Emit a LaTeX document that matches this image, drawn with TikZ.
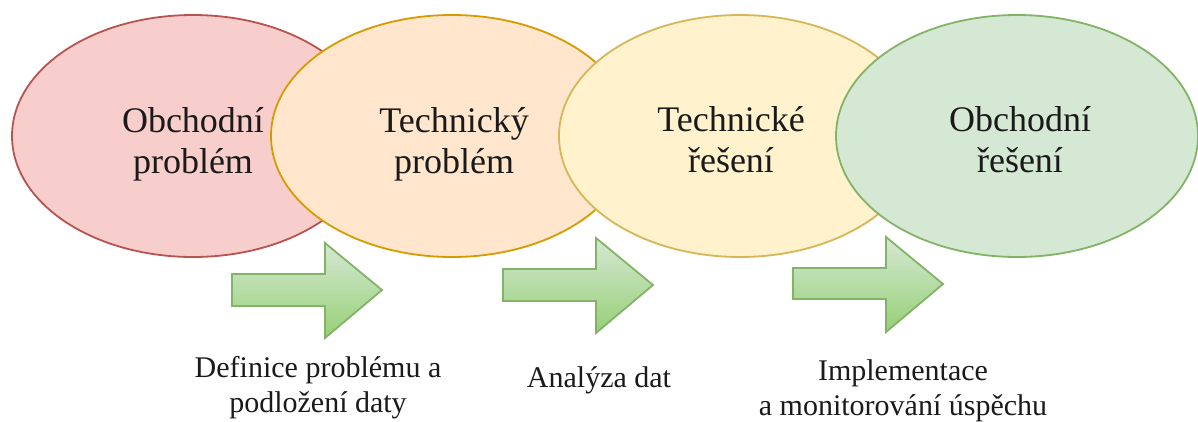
\documentclass[tikz,border=0pt]{standalone}
\usepackage{fontspec}
\setmainfont{Liberation Serif}
\usetikzlibrary{shapes.geometric}

\definecolor{redfill}{HTML}{F8CECC}
\definecolor{redline}{HTML}{B85450}
\definecolor{orangefill}{HTML}{FFE6CC}
\definecolor{orangeline}{HTML}{D79B00}
\definecolor{yellowfill}{HTML}{FFF2CC}
\definecolor{yellowline}{HTML}{D6B656}
\definecolor{greenfill}{HTML}{D5E8D4}
\definecolor{greenline}{HTML}{82B366}
\definecolor{greendark}{HTML}{97D077}
\definecolor{textcol}{HTML}{1A1A1A}

\tikzset{
  oval/.style={ellipse, line width=1.8pt, minimum width=362pt, minimum height=242pt, inner sep=0pt},
  maintext/.style={font=\fontsize{36}{41}\selectfont, align=center, inner sep=0pt, text=textcol},
  labeltext/.style={font=\fontsize{30}{35}\selectfont, align=center, inner sep=0pt, text=textcol},
  stagearrow/.style={draw=greenline, line width=1.8pt, line join=miter,
    top color=greenfill, bottom color=greendark}
}

\begin{document}
\begin{tikzpicture}[x=1pt, y=-1pt]
\useasboundingbox (0,0) rectangle (1198,421);
\fill[white] (0,0) rectangle (1198,421);

% four overlapping stages, each drawn over the previous one
\node[oval, fill=redfill, draw=redline] (e1) at (193,136) {};
\node[oval, fill=orangefill, draw=orangeline] (e2) at (452,136) {};
\node[oval, fill=yellowfill, draw=yellowline] (e3) at (740,136) {};
\node[oval, fill=greenfill, draw=greenline] (e4) at (1017,136) {};

\node[maintext] (t1) at (193,144) {Obchodní\\problém};
\node[maintext] (t2) at (454,144) {Technický\\problém};
\node[maintext] (t3) at (731,140) {Technické\\řešení};
\node[maintext] (t4) at (1020,140) {Obchodní\\řešení};

% block arrows between the stages
\draw[stagearrow] (232,274) -- (325,274) -- (325,243) -- (382,290)
  -- (325,338) -- (325,306) -- (232,306) -- cycle;
\draw[stagearrow] (503,269) -- (596,269) -- (596,238) -- (653,285)
  -- (596,333) -- (596,301) -- (503,301) -- cycle;
\draw[stagearrow] (793,268) -- (886,268) -- (886,237) -- (943,284)
  -- (886,332) -- (886,299) -- (793,299) -- cycle;

% captions under the arrows
\node[labeltext] (l1) at (318,388) {Definice problému a\\podložení daty};
\node[labeltext, anchor=base] (l2) at (599,387) {Analýza dat};
\node[labeltext] (l3) at (903,390.5) {Implementace\\a monitorování úspěchu};
\end{tikzpicture}
\end{document}
